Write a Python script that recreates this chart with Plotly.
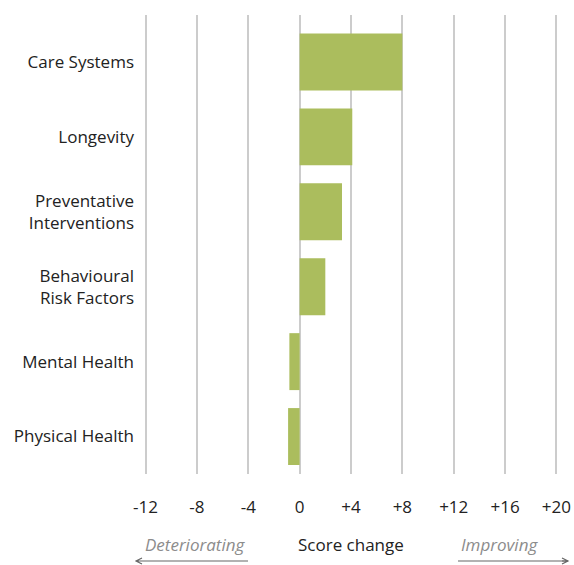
import plotly.graph_objects as go

categories = ["Care Systems", "Longevity", "Preventative<br>Interventions",
              "Behavioural<br>Risk Factors", "Mental Health", "Physical Health"]
values = [8.0, 4.1, 3.3, 2.0, -0.8, -0.9]
tick_vals = [-12, -8, -4, 0, 4, 8, 12, 16, 20]
tick_text = ["-12", "-8", "-4", "0", "+4", "+8", "+12", "+16", "+20"]

W, H = 574, 565
ml, mr, mt, mb = 143, 15, 15, 91
xr = [-12.2, 20.2]
pw = W - ml - mr
ph = H - mt - mb

def px_to_paper_x(px):
    return (px - ml) / pw

def py_to_paper_y(py):
    return (H - mb - py) / ph

FONT = "Open Sans, Noto Sans, sans-serif"
BAR = "#abbd5d"
FS = 17
ARROW = "#666666"

fig = go.Figure(go.Bar(
    x=values, y=categories, orientation="h",
    marker=dict(color=BAR, line=dict(width=0)),
    width=0.76,
))

fig.update_layout(
    width=W, height=H, autosize=False,
    margin=dict(l=ml, r=mr, t=mt, b=mb, pad=0),
    paper_bgcolor="white", plot_bgcolor="white",
    showlegend=False,
    font=dict(family=FONT, size=FS, color="#222222"),
    xaxis=dict(
        range=xr, tickvals=tick_vals, ticktext=tick_text,
        showgrid=True, gridcolor="#cccccc", gridwidth=1.5,
        zeroline=True, zerolinecolor="#cccccc", zerolinewidth=1.5,
        showline=False, ticks="", ticklabelstandoff=21,
        tickfont=dict(size=FS, color="#222222"),
        fixedrange=True, automargin=False,
    ),
    yaxis=dict(
        categoryorder="array", categoryarray=categories,
        range=[5.5, -0.627], showgrid=False, zeroline=False,
        showline=False, ticks="", ticklabelstandoff=8,
        tickfont=dict(size=FS, color="#222222"),
        fixedrange=True, automargin=False,
    ),
)

ty = py_to_paper_y(544)
fig.add_annotation(x=-8.17, y=ty, xref="x", yref="paper", text="<i>Deteriorating</i>",
                   showarrow=False, font=dict(size=FS, color="#8c8c8c"), xanchor="center", yanchor="middle")
fig.add_annotation(x=4, y=ty, xref="x", yref="paper", text="Score change",
                   showarrow=False, font=dict(size=FS, color="#222222"), xanchor="center", yanchor="middle")
fig.add_annotation(x=15.6, y=ty, xref="x", yref="paper", text="<i>Improving</i>",
                   showarrow=False, font=dict(size=FS, color="#8c8c8c"), xanchor="center", yanchor="middle")

def arrow_path(tail_px, tip_px, y_px, head=6, spread=3):
    d = 1 if tip_px > tail_px else -1
    pts = [
        (tail_px, y_px), (tip_px, y_px),
        (tip_px - d * head, y_px - spread),
        (tip_px, y_px),
        (tip_px - d * head, y_px + spread),
    ]
    return "M {},{} L {},{} M {},{} L {},{} L {},{}".format(
        *[v for p in pts for v in (px_to_paper_x(p[0]), py_to_paper_y(p[1]))]
    )

fig.add_shape(type="path", xref="paper", yref="paper",
              path=arrow_path(248, 136, 561),
              line=dict(color=ARROW, width=1.2))
fig.add_shape(type="line", xref="paper", yref="paper",
              x0=px_to_paper_x(458), x1=px_to_paper_x(568),
              y0=py_to_paper_y(561), y1=py_to_paper_y(561),
              line=dict(color=ARROW, width=1.2))
fig.add_shape(type="path", xref="paper", yref="paper",
              path=arrow_path(562, 568, 561),
              line=dict(color=ARROW, width=1.2))

fig.write_html(
    "out.html",
    config={"displayModeBar": False},
    post_script="document.body.style.margin='0';document.body.style.overflow='hidden';",
)
